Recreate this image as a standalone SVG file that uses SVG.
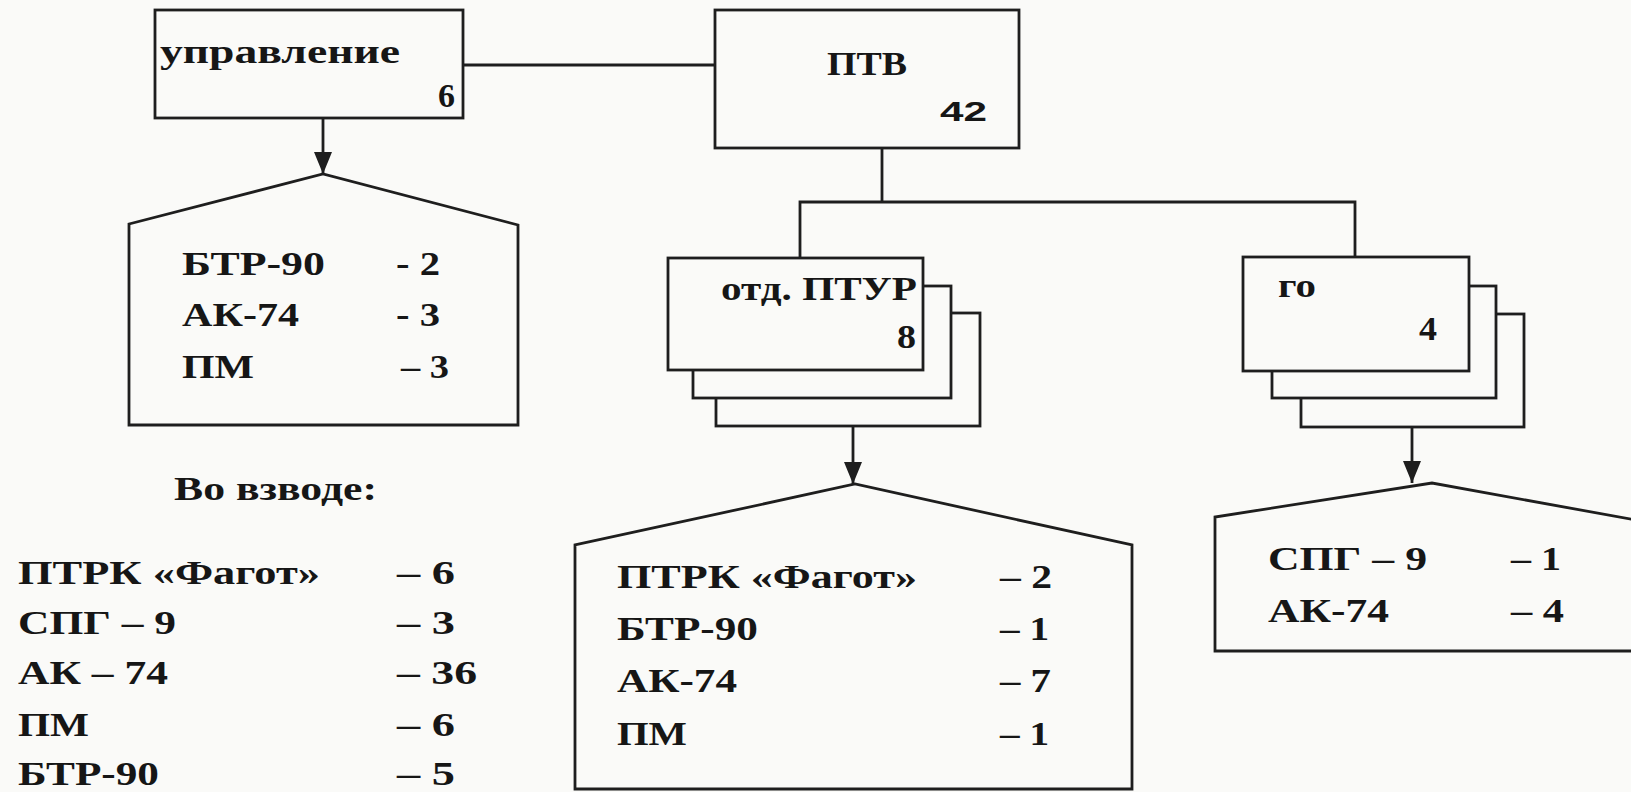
<svg xmlns="http://www.w3.org/2000/svg" width="1631" height="792" viewBox="0 0 1631 792">
<defs>
<style>
.bg{fill:#fafaf8}
.box{fill:#fafaf8;stroke:#1e1e1e;stroke-width:2.8}
.ln{fill:none;stroke:#1e1e1e;stroke-width:2.8}
.t{font-family:"Liberation Serif","Times New Roman",serif;font-weight:bold;font-size:34px;fill:#161616}
.s{font-family:"Liberation Sans",Arial,sans-serif;font-weight:bold;font-size:28px;fill:#161616}
</style>
<marker id="ah" viewBox="0 0 22 18" refX="22" refY="9" markerWidth="22" markerHeight="18" markerUnits="userSpaceOnUse" orient="auto">
<path d="M0,0 L22,9 L0,18 Z" fill="#1e1e1e"/>
</marker>
</defs>
<rect class="bg" x="0" y="0" width="1631" height="792"/>

<g id="connectors">
<path class="ln" d="M463,65 H715"/>
<path class="ln" d="M882,148 V202"/>
<path class="ln" d="M800,258 V202 H1355 V257"/>
<path class="ln" d="M323,118 V174" marker-end="url(#ah)"/>
<path class="ln" d="M853,426 V484" marker-end="url(#ah)"/>
<path class="ln" d="M1412,427 V483" marker-end="url(#ah)"/>
</g>

<g id="upravlenie">
<rect class="box" x="155" y="10" width="308" height="108"/>
<text class="t" x="160" y="63" font-size="42" textLength="240" lengthAdjust="spacingAndGlyphs">управление</text>
<text class="t" x="455" y="107" font-size="39" text-anchor="end">6</text>
</g>

<g id="ptv">
<rect class="box" x="715" y="10" width="304" height="138"/>
<text class="t" x="827" y="75" font-size="30" textLength="80" lengthAdjust="spacingAndGlyphs">ПТВ</text>
<text class="s" x="940" y="121" textLength="47" lengthAdjust="spacingAndGlyphs">42</text>
</g>

<g id="otd-ptur">
<rect class="box" x="716" y="313" width="264" height="113"/>
<rect class="box" x="693" y="286" width="258" height="112"/>
<rect class="box" x="668" y="258" width="255" height="112"/>
<text class="t" x="721" y="300" font-size="31" textLength="196" lengthAdjust="spacingAndGlyphs">отд. ПТУР</text>
<text class="t" x="897" y="348" font-size="31" textLength="19" lengthAdjust="spacingAndGlyphs">8</text>
</g>

<g id="go">
<rect class="box" x="1301" y="314" width="223" height="113"/>
<rect class="box" x="1272" y="286" width="224" height="112"/>
<rect class="box" x="1243" y="257" width="226" height="114"/>
<text class="t" x="1278" y="297" font-size="32" textLength="38" lengthAdjust="spacingAndGlyphs">го</text>
<text class="t" x="1419" y="340" font-size="31" textLength="18" lengthAdjust="spacingAndGlyphs">4</text>
</g>

<g id="upr-equip">
<path class="box" d="M129,425 V224 L323,174 L518,225 V425 Z"/>
<text class="t" x="182" y="275" textLength="143" lengthAdjust="spacingAndGlyphs">БТР-90</text>
<text class="t" x="396" y="275" textLength="44" lengthAdjust="spacingAndGlyphs">- 2</text>
<text class="t" x="182" y="326" textLength="117" lengthAdjust="spacingAndGlyphs">АК-74</text>
<text class="t" x="396" y="326" textLength="44" lengthAdjust="spacingAndGlyphs">- 3</text>
<text class="t" x="182" y="378" textLength="72" lengthAdjust="spacingAndGlyphs">ПМ</text>
<text class="t" x="401" y="378" textLength="48" lengthAdjust="spacingAndGlyphs">– 3</text>
</g>

<g id="vo-vzvode">
<text class="t" x="174" y="500" textLength="203" lengthAdjust="spacingAndGlyphs">Во взводе:</text>
<text class="t" x="18" y="584" textLength="302" lengthAdjust="spacingAndGlyphs">ПТРК «Фагот»</text>
<text class="t" x="397" y="584" textLength="58" lengthAdjust="spacingAndGlyphs">– 6</text>
<text class="t" x="18" y="634" textLength="158" lengthAdjust="spacingAndGlyphs">СПГ – 9</text>
<text class="t" x="397" y="634" textLength="58" lengthAdjust="spacingAndGlyphs">– 3</text>
<text class="t" x="18" y="684" textLength="150" lengthAdjust="spacingAndGlyphs">АК – 74</text>
<text class="t" x="397" y="684" textLength="80" lengthAdjust="spacingAndGlyphs">– 36</text>
<text class="t" x="18" y="736" textLength="71" lengthAdjust="spacingAndGlyphs">ПМ</text>
<text class="t" x="397" y="736" textLength="58" lengthAdjust="spacingAndGlyphs">– 6</text>
<text class="t" x="18" y="785" textLength="141" lengthAdjust="spacingAndGlyphs">БТР-90</text>
<text class="t" x="397" y="785" textLength="58" lengthAdjust="spacingAndGlyphs">– 5</text>
</g>

<g id="ptur-equip">
<path class="box" d="M575,789 V545 L855,484 L1132,545 V789 Z"/>
<text class="t" x="617" y="588" textLength="300" lengthAdjust="spacingAndGlyphs">ПТРК «Фагот»</text>
<text class="t" x="1000" y="588" textLength="52" lengthAdjust="spacingAndGlyphs">– 2</text>
<text class="t" x="617" y="640" textLength="141" lengthAdjust="spacingAndGlyphs">БТР-90</text>
<text class="t" x="1000" y="640" textLength="49" lengthAdjust="spacingAndGlyphs">– 1</text>
<text class="t" x="617" y="692" textLength="120" lengthAdjust="spacingAndGlyphs">АК-74</text>
<text class="t" x="1000" y="692" textLength="51" lengthAdjust="spacingAndGlyphs">– 7</text>
<text class="t" x="617" y="745" textLength="70" lengthAdjust="spacingAndGlyphs">ПМ</text>
<text class="t" x="1000" y="745" textLength="49" lengthAdjust="spacingAndGlyphs">– 1</text>
</g>

<g id="go-equip">
<path class="box" d="M1215,651 V517 L1432,483 L1652,523 V651 Z"/>
<text class="t" x="1268" y="570" font-size="33" textLength="159" lengthAdjust="spacingAndGlyphs">СПГ – 9</text>
<text class="t" x="1511" y="570" font-size="33" textLength="50" lengthAdjust="spacingAndGlyphs">– 1</text>
<text class="t" x="1268" y="622" font-size="33" textLength="121" lengthAdjust="spacingAndGlyphs">АК-74</text>
<text class="t" x="1511" y="622" font-size="33" textLength="53" lengthAdjust="spacingAndGlyphs">– 4</text>
</g>
</svg>
